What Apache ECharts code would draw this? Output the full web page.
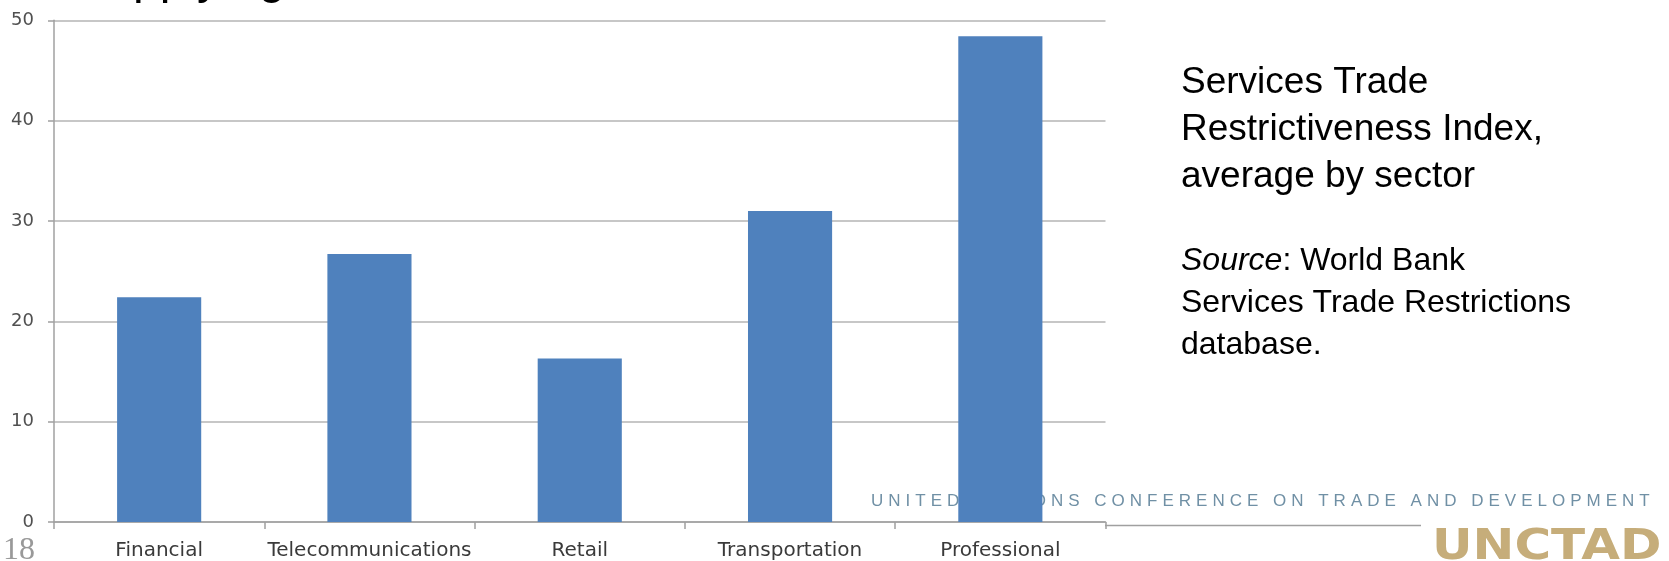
<!DOCTYPE html>
<html>
<head>
<meta charset="utf-8">
<script src="https://cdn.jsdelivr.net/npm/echarts@6/dist/echarts.min.js"></script>
<style>
  html, body { margin: 0; padding: 0; background: #ffffff; }
  #chart { width: 1669px; height: 561px; }
</style>
</head>
<body>
<div id="chart"></div>
<script>
// Sectors and their average Services Trade Restrictiveness Index
const sectors = ['Financial', 'Telecommunications', 'Retail', 'Transportation', 'Professional'];
const striAverage = [22.4, 26.7, 16.3, 31.0, 48.4];
const yMin = 0;
const yMax = 50;
const yStep = 10;

// Slide heading (only its lower edge falls inside the frame)
const heading = 'Applying';

// Side notes
const noteLines = ['Services Trade', 'Restrictiveness Index,', 'average by sector'];
const sourceLines = ['{i|Source}: World Bank', 'Services Trade Restrictions', 'database.'];

// Footer branding
const orgName = 'UNITED NATIONS CONFERENCE ON TRADE AND DEVELOPMENT';
const orgAcronym = 'UNCTAD';
const slideNumber = '18';

const SANS = 'Liberation Sans, Arial, sans-serif';
const WIDE = 'DejaVu Sans, Verdana, sans-serif';

const chart = echarts.init(document.getElementById('chart'));

// Lay out a string one glyph at a time with extra tracking between letters
function trackedText(str, x, y, fontSize, family, spacing, fill, z) {
  const ctx = document.createElement('canvas').getContext('2d');
  ctx.font = fontSize + 'px ' + family;
  const parts = [];
  let cx = x;
  for (const ch of str) {
    if (ch !== ' ') {
      parts.push({
        type: 'text', x: cx, y: y, z: z,
        style: { text: ch, fontSize: fontSize, fontFamily: family, fill: fill,
                 textAlign: 'left', textVerticalAlign: 'middle' }
      });
    }
    cx += ctx.measureText(ch).width + spacing;
  }
  return parts;
}

const graphics = [];

graphics.push({
  type: 'text', x: 101, y: -20, z: 0,
  style: { text: heading, fontSize: 48, fontFamily: SANS, fill: '#000000',
           textAlign: 'left', textVerticalAlign: 'middle' }
});

noteLines.forEach((t, i) => {
  graphics.push({
    type: 'text', x: 1181, y: 82.5 + i * 47.2,
    style: { text: t, fontSize: 37, fontFamily: SANS, fill: '#000000',
             textAlign: 'left', textVerticalAlign: 'middle' }
  });
});

sourceLines.forEach((t, i) => {
  graphics.push({
    type: 'text', x: 1181, y: 261 + i * 42,
    style: {
      text: t, fontSize: 32, fontFamily: SANS, fill: '#000000',
      textAlign: 'left', textVerticalAlign: 'middle',
      rich: { i: { fontStyle: 'italic', fontSize: 32, fontFamily: SANS, fill: '#000000' } }
    }
  });
});

// Organisation name, partly hidden behind the tallest bar
graphics.push(...trackedText(orgName, 871, 501, 17, SANS, 5.0, '#7090a5', 0));

// Rule under the organisation name
graphics.push({
  type: 'line', z: 0,
  shape: { x1: 1105, y1: 525.5, x2: 1421, y2: 525.5 },
  style: { stroke: '#a0a0a0', lineWidth: 1.5 }
});

// Acronym wordmark
graphics.push({
  type: 'text', x: 1432, y: 527, scaleX: 1.19, z: 0,
  style: { text: orgAcronym, fontSize: 42, fontWeight: 'bold',
           fontFamily: WIDE, fill: '#c6ad7a',
           textAlign: 'left', textVerticalAlign: 'top' }
});

// Page number
graphics.push({
  type: 'text', x: 3, y: 551, z: 0,
  style: { text: slideNumber, fontSize: 32, fontFamily: 'Liberation Serif, serif', fill: '#999999',
           textAlign: 'left', textVerticalAlign: 'middle' }
});

const option = {
  animation: false,
  backgroundColor: '#ffffff',
  grid: { left: 54, right: 563.5, top: 20.3, bottom: 35.7, containLabel: false },
  xAxis: {
    type: 'category',
    data: sectors,
    axisLine: { show: true, lineStyle: { color: '#a0a0a0', width: 1.5 } },
    axisTick: { show: true, length: 7, alignWithLabel: false, lineStyle: { color: '#a0a0a0', width: 1.5 } },
    axisLabel: { margin: 19, fontSize: 20, fontFamily: WIDE, color: '#3a3a3a', interval: 0 }
  },
  yAxis: {
    type: 'value',
    min: yMin, max: yMax, interval: yStep,
    axisLine: { show: true, lineStyle: { color: '#a0a0a0', width: 1.5 } },
    axisTick: { show: true, length: 6, lineStyle: { color: '#a0a0a0', width: 1.5 } },
    splitLine: { show: true, lineStyle: { color: '#b4b4b4', width: 1.5 } },
    axisLabel: { margin: 20, fontSize: 18, fontFamily: WIDE, color: '#505050' }
  },
  series: [{
    type: 'bar',
    data: striAverage,
    barWidth: '40%',
    z: 2,
    itemStyle: { color: '#4f81bd' }
  }],
  graphic: graphics
};

chart.setOption(option);
</script>
</body>
</html>
